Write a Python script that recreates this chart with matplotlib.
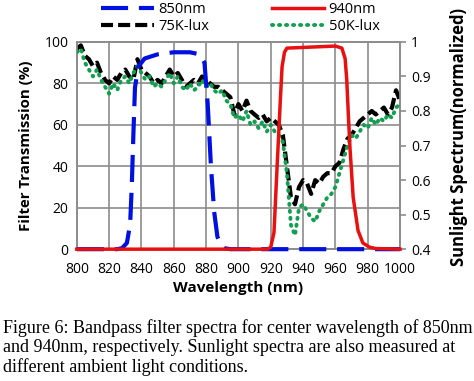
import numpy as np
import matplotlib.pyplot as plt

plt.rcParams['font.family'] = ['Open Sans', 'DejaVu Sans']

# ----------------------------------------------------------------------------
# Data
# ----------------------------------------------------------------------------
wl_850 = [800, 825, 828, 831, 833, 834, 835, 836, 838, 842, 850, 860, 870,
          876, 879, 881, 883, 885, 887, 889, 891, 895, 1000]
trans_850 = [0, 0, 0.5, 3, 12, 30, 55, 78, 88, 92, 94, 95, 95,
             94, 90, 70, 40, 18, 6, 2, 0.5, 0, 0]

wl_940 = [800, 918, 920, 922, 924, 926, 927, 928.5, 930, 945, 960, 964,
          966, 967, 968, 969, 971, 974, 977, 981, 985, 1000]
trans_940 = [0, 0, 1, 8, 41, 73, 88, 95, 97, 97.5, 98, 97,
             92, 82, 65, 49, 25, 9, 3, 1, 0.3, 0]

wl_sun = np.arange(800, 1000.1, 2.5)
sun_75k = [0.98, 0.99, 0.96, 0.95, 0.93, 0.94, 0.91, 0.89, 0.88, 0.90,
           0.89, 0.91, 0.92, 0.90, 0.89, 0.95, 0.92, 0.91, 0.90, 0.88,
           0.89, 0.88, 0.90, 0.92, 0.90, 0.91, 0.89, 0.87, 0.88, 0.89,
           0.88, 0.90, 0.89, 0.88, 0.87, 0.87, 0.86, 0.85, 0.84, 0.79,
           0.82, 0.80, 0.83, 0.80, 0.79, 0.78, 0.79, 0.77, 0.78, 0.77,
           0.76, 0.73, 0.64, 0.55, 0.53, 0.58, 0.60, 0.59, 0.56, 0.60,
           0.59, 0.61, 0.62, 0.62, 0.64, 0.65, 0.69, 0.72, 0.73, 0.75,
           0.77, 0.78, 0.79, 0.80, 0.79, 0.80, 0.81, 0.79, 0.81, 0.86,
           0.83]
sun_50k = [0.97, 0.98, 0.94, 0.92, 0.90, 0.92, 0.89, 0.87, 0.85, 0.88,
           0.86, 0.89, 0.90, 0.88, 0.91, 0.93, 0.91, 0.89, 0.90, 0.87,
           0.88, 0.87, 0.89, 0.91, 0.88, 0.90, 0.87, 0.86, 0.88, 0.86,
           0.87, 0.89, 0.87, 0.88, 0.86, 0.85, 0.86, 0.83, 0.82, 0.78,
           0.79, 0.77, 0.80, 0.76, 0.77, 0.75, 0.77, 0.74, 0.76, 0.74,
           0.73, 0.71, 0.62, 0.47, 0.44, 0.52, 0.53, 0.51, 0.49, 0.48,
           0.51, 0.53, 0.55, 0.56, 0.58, 0.62, 0.66, 0.70, 0.73, 0.72,
           0.74, 0.76, 0.75, 0.78, 0.76, 0.78, 0.77, 0.79, 0.78, 0.81,
           0.82]

caption = ("Figure 6: Bandpass filter spectra for center wavelength of 850nm\n"
           "and 940nm, respectively. Sunlight spectra are also measured at\n"
           "different ambient light conditions.")

# ----------------------------------------------------------------------------
# Plot
# ----------------------------------------------------------------------------
BLUE = '#0010e0'
RED = '#e81010'
GREEN = '#12a050'
GRID = '#8c8c8c'

fig = plt.figure(figsize=(4.74, 3.81), dpi=100)
ax = fig.add_axes([0.162, 0.346, 0.682, 0.544])
ax2 = ax.twinx()
ax.set_xlim(800, 1000)
ax.set_ylim(0, 100)
ax2.set_ylim(0.4, 1.0)

# sunlight lives on the right-hand scale, but is drawn in ax so the
# grid stays underneath everything
l75, = ax.plot(wl_sun, sun_75k, color='black', lw=3.0, ls=(0, (2.9, 1.2)),
               transform=ax2.transData, zorder=2)
l50, = ax.plot(wl_sun, sun_50k, color=GREEN, lw=2.8, ls=(0, (0.3, 1.5)),
               dash_capstyle='round', transform=ax2.transData, zorder=3)
l850, = ax.plot(wl_850, trans_850, color=BLUE, lw=3.0, ls=(0, (6.5, 2.6)),
                zorder=4, clip_on=False)
l940, = ax.plot(wl_940, trans_940, color=RED, lw=2.5, zorder=5,
                clip_on=False)
ax.set_xlim(800, 1000)
ax.set_ylim(0, 100)

ax.set_zorder(2)
ax.patch.set_visible(False)
ax2.set_zorder(1)

ax.set_xticks(np.arange(800, 1001, 20))
ax.set_yticks(np.arange(0, 101, 20))
ax2.set_yticks([0.4, 0.5, 0.6, 0.7, 0.8, 0.9, 1.0])
ax2.set_yticklabels(['0.4', '0.5', '0.6', '0.7', '0.8', '0.9', '1'])

ax.grid(True, color=GRID, lw=1.2, zorder=0)
ax.set_axisbelow(True)
ax.tick_params(axis='both', length=0, labelsize=10)
ax.tick_params(axis='x', pad=9)
ax.tick_params(axis='y', pad=6)
ax2.tick_params(axis='y', length=4, color=GRID, width=1.2, labelsize=10, pad=4)
for a in (ax, ax2):
    for s in a.spines.values():
        s.set_color(GRID)
        s.set_linewidth(1.2)

ax.set_xlabel('Wavelength (nm)', fontsize=11, fontweight='bold', labelpad=3)
ax.set_ylabel('Filter Transmission (%)', fontsize=10.8, fontweight='bold',
              labelpad=8)
ax2.set_ylabel('Sunlight Spectrum(normalized)', fontsize=12,
               fontweight='bold')
ax2.yaxis.set_label_coords(1.155, 0.54)

fig.legend([l850, l75, l940, l50], ['850nm', '75K-lux', '940nm', '50K-lux'],
           ncol=2, loc='upper center', bbox_to_anchor=(0.507, 1.03),
           frameon=False, fontsize=10.5, handlelength=3.6,
           columnspacing=4.3, labelspacing=0.15, handletextpad=0.3)

fig.text(0.006, 0.163, caption, fontsize=13, family='Liberation Serif',
         va='top', ha='left', linespacing=1.17)

fig.savefig('out.png', dpi=100)
